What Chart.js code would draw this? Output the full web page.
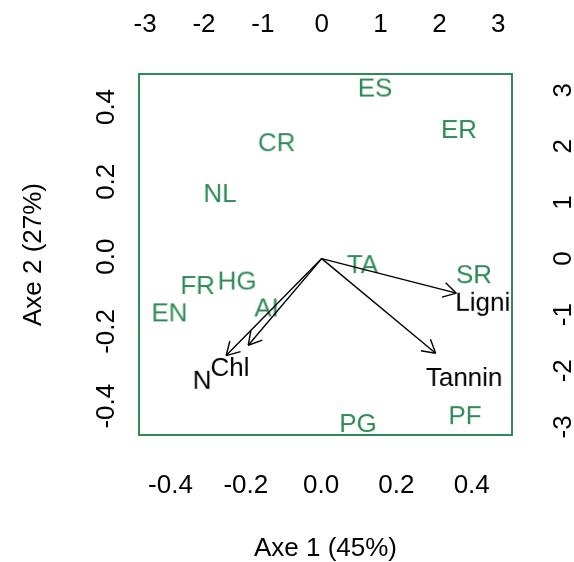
<!DOCTYPE html>
<html>
<head>
<meta charset="utf-8">
<script src="https://cdn.jsdelivr.net/npm/chart.js@4.4.1/dist/chart.umd.min.js"></script>
<style>
  html, body { margin: 0; padding: 0; background: #fff; }
  canvas { display: block; }
</style>
</head>
<body>
<canvas id="biplot" width="574" height="562"></canvas>
<script>
// site scores, plotted against the bottom / left axes
const siteNames = ['ES', 'ER', 'CR', 'NL', 'FR', 'HG', 'EN', 'AI', 'TA', 'SR', 'PG', 'PF'];
const siteAxe1 = [0.143, 0.366, -0.118, -0.269, -0.328, -0.223, -0.403, -0.145, 0.110, 0.406, 0.098, 0.382];
const siteAxe2 = [0.452, 0.341, 0.306, 0.170, -0.076, -0.064, -0.149, -0.136, -0.020, -0.047, -0.445, -0.424];

// variable loadings, plotted against the top / right axes
const varNames = ['Lignin', 'Tannin', 'Chl', 'N'];
const varAxe1 = [2.86, 2.42, -1.56, -2.03];
const varAxe2 = [-0.77, -2.11, -1.93, -2.16];

const scoreTicks = [-0.4, -0.2, 0, 0.2, 0.4];
const scoreTickLabels = ['-0.4', '-0.2', '0.0', '0.2', '0.4'];
const loadTicks = [-3, -2, -1, 0, 1, 2, 3];
const loadTickLabels = ['-3', '-2', '-1', '0', '1', '2', '3'];

const axisTitles = ['Axe 1 (45%)', 'Axe 2 (27%)'];

const GREEN = '#2e8b57';
const FAMILY = '"Liberation Sans", Arial, Helvetica, sans-serif';
const SIZE = 26;
const arrowShrink = 0.8; // arrows stop short of their labels
const headLen = 15;

// text label rendered to a small canvas, used as a point style
function textMark(text, color) {
  const c = document.createElement('canvas');
  let g = c.getContext('2d');
  g.font = SIZE + 'px ' + FAMILY;
  const w = Math.ceil(g.measureText(text).width / 2) * 2 + 6;
  c.width = w;
  c.height = 40;
  g = c.getContext('2d');
  g.font = SIZE + 'px ' + FAMILY;
  g.fillStyle = color;
  g.textAlign = 'center';
  g.textBaseline = 'alphabetic';
  g.fillText(text, w / 2, 20 + SIZE * 0.716 / 2);
  return c;
}

const tickFont = { family: FAMILY, size: SIZE };
const titleFont = { family: FAMILY, size: SIZE, lineHeight: 1 };

function fixedTicks(values) {
  return scale => { scale.ticks = values.map(v => ({ value: v })); };
}

const datasets = [];

// arrow shafts
varNames.forEach((name, i) => {
  datasets.push({
    isArrow: true,
    xAxisID: 'x2',
    yAxisID: 'y2',
    data: [{ x: 0, y: 0 }, { x: varAxe1[i] * arrowShrink, y: varAxe2[i] * arrowShrink }],
    showLine: true,
    borderColor: '#000',
    borderWidth: 1.4,
    pointRadius: 0
  });
});

// variable names
datasets.push({
  xAxisID: 'x2',
  yAxisID: 'y2',
  data: varNames.map((n, i) => ({ x: varAxe1[i], y: varAxe2[i] })),
  pointStyle: varNames.map(n => textMark(n, '#000')),
  pointRadius: 1
});

// site names
datasets.push({
  xAxisID: 'x',
  yAxisID: 'y',
  data: siteNames.map((n, i) => ({ x: siteAxe1[i], y: siteAxe2[i] })),
  pointStyle: siteNames.map(n => textMark(n, GREEN)),
  pointRadius: 1
});

const arrowHeads = {
  id: 'arrowHeads',
  afterDatasetsDraw(chart) {
    const ctx = chart.ctx;
    ctx.save();
    ctx.strokeStyle = '#000';
    ctx.lineWidth = 1.4;
    chart.data.datasets.forEach((ds, i) => {
      if (!ds.isArrow) return;
      const pts = chart.getDatasetMeta(i).data;
      const a = pts[0], b = pts[1];
      const ang = Math.atan2(b.y - a.y, b.x - a.x);
      ctx.beginPath();
      [-1, 1].forEach(s => {
        ctx.moveTo(b.x - headLen * Math.cos(ang + s * Math.PI / 6), b.y - headLen * Math.sin(ang + s * Math.PI / 6));
        ctx.lineTo(b.x, b.y);
      });
      ctx.stroke();
    });
    ctx.restore();
  }
};

const border = { display: true, color: GREEN, width: 2 };
const noGrid = { display: false, drawTicks: false };

new Chart(document.getElementById('biplot'), {
  type: 'scatter',
  data: { datasets: datasets },
  options: {
    responsive: false,
    animation: false,
    events: [],
    layout: { padding: 0 },
    plugins: { legend: { display: false }, tooltip: { enabled: false } },
    scales: {
      x: {
        type: 'linear', position: 'bottom', min: -0.4837, max: 0.507,
        grid: noGrid, border: border,
        afterBuildTicks: fixedTicks(scoreTicks),
        afterFit: s => { s.height = 127; },
        ticks: { font: tickFont, color: '#000', padding: 35.4, autoSkip: false, maxRotation: 0,
                 callback: (v, i) => scoreTickLabels[i] },
        title: { display: true, text: axisTitles[0], font: titleFont, color: '#000', padding: 0 }
      },
      y: {
        type: 'linear', position: 'left', min: -0.477, max: 0.4882,
        grid: noGrid, border: border,
        afterBuildTicks: fixedTicks(scoreTicks),
        afterFit: s => { s.width = 139; },
        ticks: { font: tickFont, color: '#000', padding: 9.6, autoSkip: false,
                 minRotation: 90, maxRotation: 90, crossAlign: 'center',
                 callback: (v, i) => scoreTickLabels[i] },
        title: { display: true, text: axisTitles[1], font: titleFont, color: '#000', padding: { top: 21, bottom: 0 } }
      },
      x2: {
        type: 'linear', position: 'top', min: -3.104, max: 3.233,
        grid: noGrid, border: border,
        afterBuildTicks: fixedTicks(loadTicks),
        afterFit: s => { s.height = 74; },
        ticks: { font: tickFont, color: '#000', padding: 33.4, autoSkip: false, maxRotation: 0,
                 callback: (v, i) => loadTickLabels[i] }
      },
      y2: {
        type: 'linear', position: 'right', min: -3.144, max: 3.29,
        grid: noGrid, border: border,
        afterBuildTicks: fixedTicks(loadTicks),
        afterFit: s => { s.width = 62; },
        ticks: { font: tickFont, color: '#000', padding: 39.9, autoSkip: false,
                 minRotation: 90, maxRotation: 90, crossAlign: 'center',
                 callback: (v, i) => loadTickLabels[i] }
      }
    }
  },
  plugins: [arrowHeads]
});
</script>
</body>
</html>
